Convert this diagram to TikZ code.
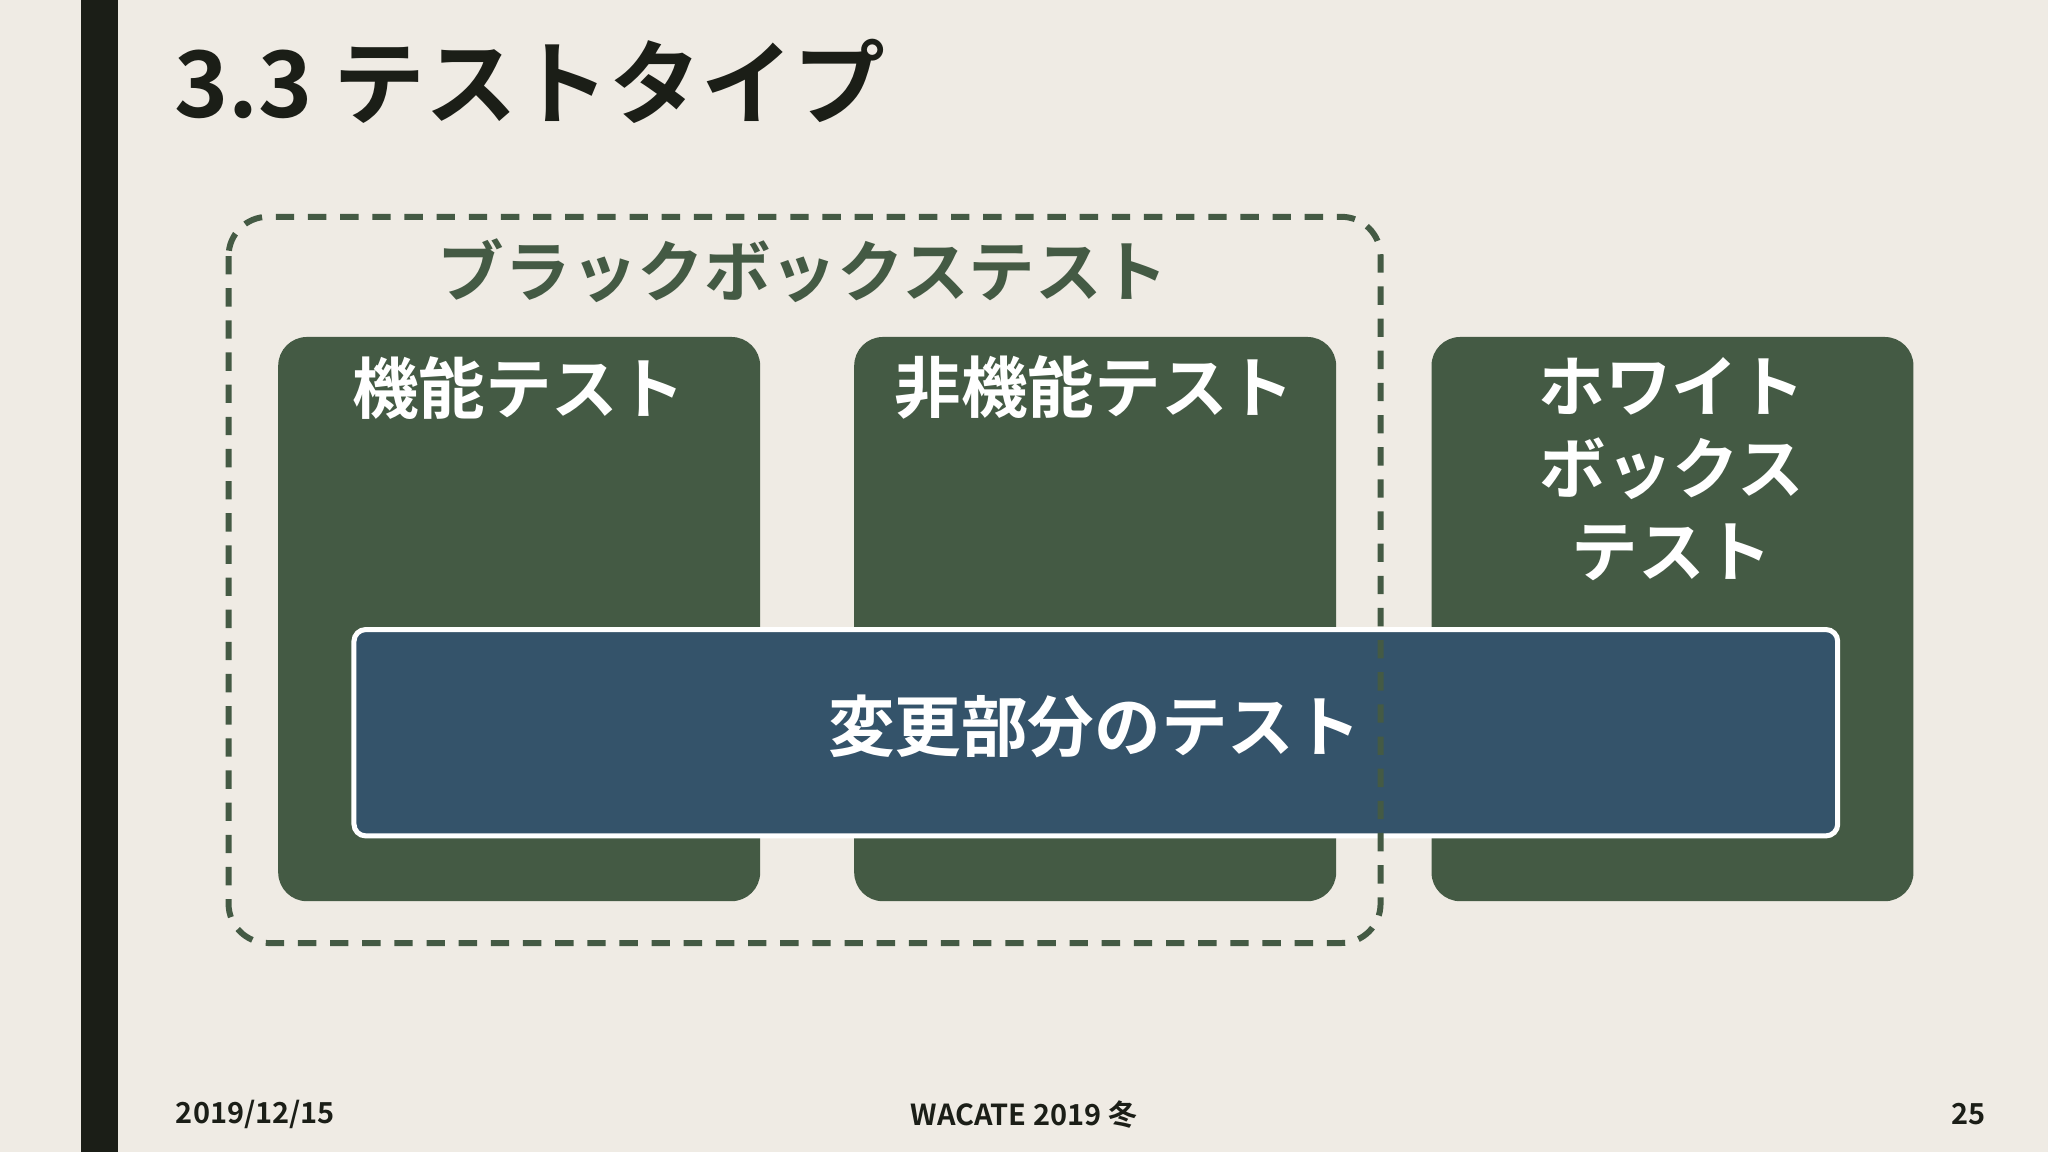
\documentclass[tikz,border=0pt]{standalone}
\usepackage{fontspec}
\newfontfamily\jp{Noto Sans CJK JP}[BoldFont={* Bold}]
\definecolor{bg}{HTML}{EFEBE4}
\definecolor{bar}{HTML}{1B1E17}
\definecolor{grn}{HTML}{445A44}
\definecolor{blu}{HTML}{34536A}
\tikzset{gbox/.style={fill=grn,rounded corners=0.22cm},
lab/.style={text=white,font=\jp\bfseries\fontsize{14.5pt}{17pt}\selectfont,align=center,inner sep=0}}
\begin{document}
\begin{tikzpicture}[x=0.01cm,y=-0.01cm]
\fill[bg] (0,0) rectangle (1568,882);
\useasboundingbox (0,0) rectangle (1568,882);
\fill[bar] (62,0) rectangle (90,882);
\node[anchor=west,inner sep=0,text=bar,font=\jp\bfseries\fontsize{20pt}{24pt}\selectfont] (title) at (133,62) {3.3 テストタイプ};
\fill[gbox] (213,258) rectangle (582,690);
\fill[gbox] (654,258) rectangle (1023,690);
\fill[gbox] (1096,258) rectangle (1465,690);
\node[lab] (f) at (397,297) {機能テスト};
\node[lab] (nf) at (838,297) {非機能テスト};
\node[lab,font=\jp\bfseries\fontsize{14.5pt}{18pt}\selectfont] (w) at (1280,359) {ホワイト\\ボックス\\テスト};
\draw[white,line width=1.1pt,fill=blu,rounded corners=0.09cm] (271,482) rectangle (1407,640);
\node[lab] (c) at (838,556) {変更部分のテスト};
\draw[grn,line width=1.3pt,dash pattern=on 4pt off 3pt,rounded corners=0.3cm] (175,166) rectangle (1057,722);
\node[lab,text=grn] (bb) at (615,207) {ブラックボックステスト};
\node[anchor=west,inner sep=0,text=bar,font=\jp\bfseries\fontsize{6.3pt}{8pt}\selectfont] (d) at (134,853) {2019/12/15};
\node[inner sep=0,text=bar,font=\jp\bfseries\fontsize{6.3pt}{8pt}\selectfont] (m) at (784,853) {WACATE 2019 冬};
\node[anchor=east,inner sep=0,text=bar,font=\jp\bfseries\fontsize{6.3pt}{8pt}\selectfont] (p) at (1521,853) {25};
\end{tikzpicture}
\end{document}
